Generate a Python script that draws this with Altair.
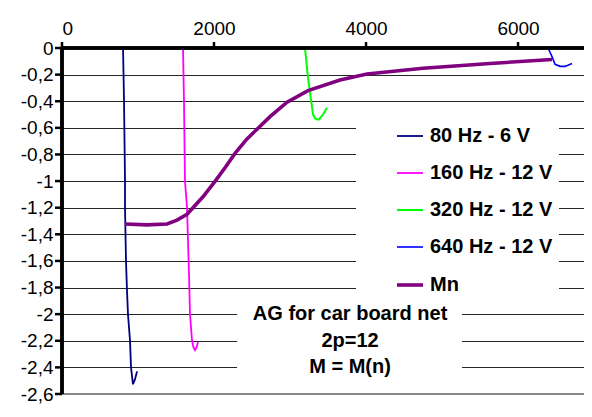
import altair as alt
import pandas as pd

# ---- data ----
series_names = ["80 Hz - 6 V", "160 Hz - 12 V", "320 Hz - 12 V", "640 Hz - 12 V", "Mn"]
series_colors = ["#000080", "#FF00FF", "#00FF00", "#0000FF", "#800080"]
series_widths = [1.8, 1.8, 2.0, 1.6, 3.6]

x_80 = [803, 816, 829, 829, 842, 855, 868, 895, 908, 922, 934, 960, 987]
y_80 = [0.0, -0.4, -1.0, -1.2, -1.6, -1.82, -2.0, -2.2, -2.4, -2.47, -2.527, -2.49, -2.43]

x_160 = [1592, 1605, 1618, 1645, 1671, 1684, 1711, 1730, 1750, 1770, 1789]
y_160 = [0.0, -0.4, -1.0, -1.2, -1.7, -2.0, -2.2, -2.25, -2.27, -2.25, -2.21]

x_320 = [3197, 3237, 3276, 3303, 3329, 3360, 3382, 3434, 3487]
y_320 = [0.0, -0.225, -0.39, -0.50, -0.53, -0.537, -0.537, -0.50, -0.45]

x_640 = [6395, 6447, 6487, 6553, 6618, 6711]
y_640 = [0.0, -0.065, -0.123, -0.138, -0.138, -0.116]

x_mn = [829, 1118, 1382, 1513, 1645, 1855, 2013, 2145, 2276, 2434, 2566, 2737,
        2961, 3237, 3658, 4013, 4750, 5632, 6447]
y_mn = [-1.322, -1.329, -1.322, -1.293, -1.249, -1.118, -1.002, -0.900, -0.792,
        -0.683, -0.610, -0.516, -0.407, -0.320, -0.240, -0.196, -0.152, -0.116, -0.087]

x_ticks = [0, 2000, 4000, 6000]
y_ticks = [0, -0.2, -0.4, -0.6, -0.8, -1, -1.2, -1.4, -1.6, -1.8, -2, -2.2, -2.4, -2.6]

note_lines = ["AG for car board net", "2p=12", "M = M(n)"]
note_x = [3790, 3790, 3790]
note_y = [-2.0, -2.2, -2.4]
note_box_x = [2303, 5263]
note_box_y = [-1.9, -2.5]

x_domain = [0, 6868]
y_domain = [-2.6, 0]

# ---- tables ----
rows = []
for name, xs, ys in zip(series_names, [x_80, x_160, x_320, x_640, x_mn],
                        [y_80, y_160, y_320, y_640, y_mn]):
    for i, (xv, yv) in enumerate(zip(xs, ys)):
        rows.append({"series": name, "n": xv, "M": yv, "i": i})
df = pd.DataFrame(rows)

notes = pd.DataFrame({"text": note_lines, "x": note_x, "y": note_y})
box = pd.DataFrame({"x": [note_box_x[0]], "x2": [note_box_x[1]],
                    "y": [note_box_y[0]], "y2": [note_box_y[1]]})
xt = pd.DataFrame({"v": x_ticks})
yt = pd.DataFrame({"v": y_ticks})

FONT = "Liberation Sans"

xscale = alt.Scale(domain=x_domain, nice=False, zero=False)
yscale = alt.Scale(domain=y_domain, nice=False)

legend = alt.Legend(
    title=None, orient="none", legendX=294, legendY=68,
    fillColor="white", padding=6, symbolOffset=33,
    symbolType="stroke", symbolSize=676, labelOffset=5,
    labelFont=FONT, labelFontSize=20, labelFontWeight="bold", labelColor="black",
    rowPadding=13,
)

x_axis = alt.Axis(orient="top", values=x_ticks, grid=False, format="d",
                  domain=False, ticks=False,
                  labelPadding=10, labelOverlap=False)
y_axis = alt.Axis(orient="left", values=y_ticks, grid=True,
                  domain=False, ticks=False,
                  labelExpr="replace(datum.value + '', '.', ',')",
                  labelPadding=9, labelOverlap=False)

lines = alt.Chart(df).mark_line().encode(
    x=alt.X("n:Q", scale=xscale, title=None, axis=x_axis),
    y=alt.Y("M:Q", scale=yscale, title=None, axis=y_axis),
    color=alt.Color("series:O", sort=series_names,
                    scale=alt.Scale(type="ordinal", domain=series_names, range=series_colors),
                    legend=legend),
    strokeWidth=alt.StrokeWidth("series:O", sort=series_names,
                                scale=alt.Scale(type="ordinal", domain=series_names,
                                                range=series_widths),
                                legend=legend),
    order="i:Q",
    detail="series:N",
)

bg = alt.Chart(box).mark_rect(color="white").encode(
    x=alt.X("x:Q", scale=xscale, title=None, axis=x_axis),
    x2="x2:Q",
    y=alt.Y("y:Q", scale=yscale, title=None, axis=y_axis),
    y2="y2:Q",
)

text = alt.Chart(notes).mark_text(
    font=FONT, fontSize=20, fontWeight="bold", color="black", baseline="middle", align="center"
).encode(
    x=alt.X("x:Q", scale=xscale, title=None, axis=x_axis),
    y=alt.Y("y:Q", scale=yscale, title=None, axis=y_axis),
    text="text:N",
)

# axis lines and tick marks drawn explicitly (bottom grid line in grey)
bottom_line = alt.Chart(yt).mark_rule(color="#888888", strokeWidth=1).encode(
    y=alt.datum(y_domain[0], scale=yscale, axis=y_axis),
    x=alt.datum(x_domain[0], scale=xscale, axis=x_axis),
    x2=alt.datum(x_domain[1]),
)
top_line = alt.Chart(xt).mark_rule(color="black", strokeWidth=3).encode(
    y=alt.datum(y_domain[1], scale=yscale, axis=y_axis),
    x=alt.datum(x_domain[0], scale=xscale, axis=x_axis),
    x2=alt.datum(x_domain[1]),
)
left_line = alt.Chart(xt).mark_rule(color="black", strokeWidth=3).encode(
    x=alt.datum(x_domain[0], scale=xscale, axis=x_axis),
    y=alt.datum(y_domain[1], scale=yscale, axis=y_axis),
    y2=alt.datum(y_domain[0]),
)
x_tick_marks = alt.Chart(xt).mark_rule(color="black", strokeWidth=2.5).encode(
    x=alt.X("v:Q", scale=xscale, title=None, axis=x_axis),
    y=alt.value(-6), y2=alt.value(0),
)
y_tick_marks = alt.Chart(yt).mark_rule(color="black", strokeWidth=2.5).encode(
    y=alt.Y("v:Q", scale=yscale, title=None, axis=y_axis),
    x=alt.value(-7), x2=alt.value(0),
)

chart = alt.layer(lines, bg, text, bottom_line, top_line, left_line,
                  x_tick_marks, y_tick_marks).properties(
    width=522, height=346,
    autosize=alt.AutoSizeParams(type="none"),
    padding={"left": 54, "top": 40, "right": 0, "bottom": 10},
    background="white",
).configure_view(stroke=None).configure_axis(
    gridColor="black", gridWidth=1, gridOpacity=0.85,
    labelFont=FONT, labelFontSize=19, labelColor="black",
)

chart.save("out.html", embed_options={"renderer": "svg", "actions": False})
